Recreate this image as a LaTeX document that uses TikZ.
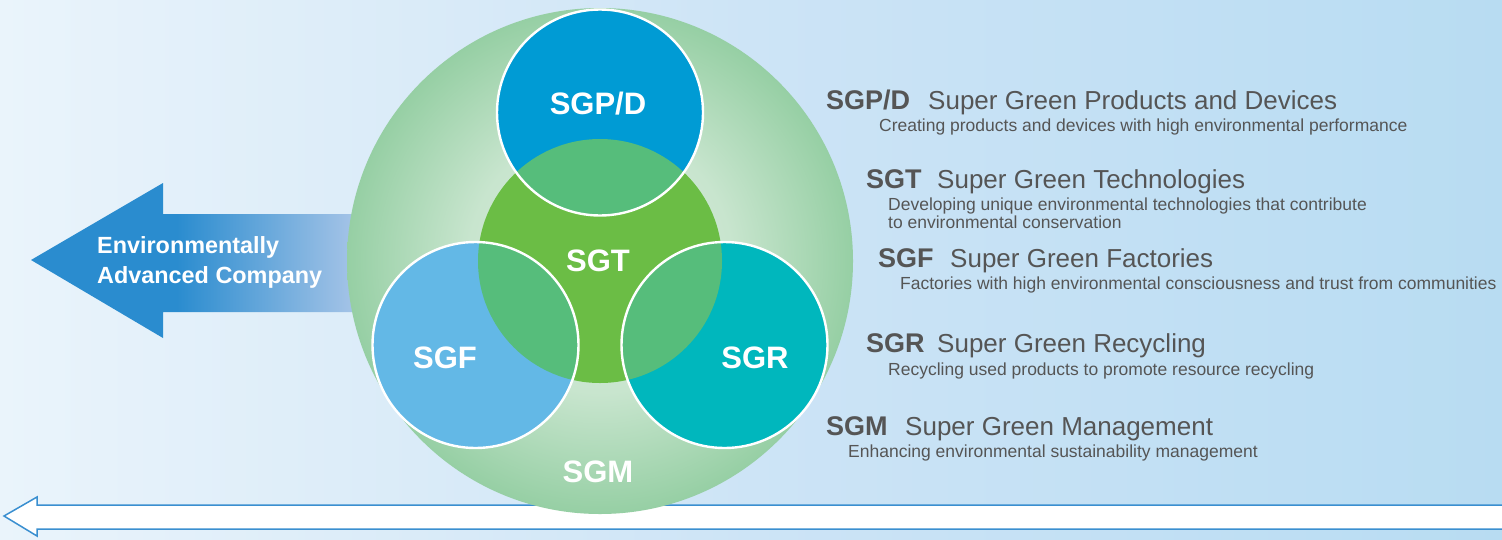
\documentclass[tikz,border=0pt]{standalone}
\usepackage{fontspec}
\setmainfont{Liberation Sans}
\definecolor{bgL}{RGB}{234,244,251}
\definecolor{bgM}{RGB}{205,228,246}
\definecolor{bgR}{RGB}{184,220,242}
\definecolor{arrDark}{RGB}{42,140,207}
\definecolor{arrLight}{RGB}{170,198,232}
\definecolor{glowC}{RGB}{216,237,220}
\definecolor{glowM}{RGB}{200,229,206}
\definecolor{glowE}{RGB}{150,207,164}
\definecolor{cSGPD}{RGB}{0,155,212}
\definecolor{cSGT}{RGB}{107,189,69}
\definecolor{cSGF}{RGB}{99,184,230}
\definecolor{cSGR}{RGB}{0,183,189}
\definecolor{cOver}{RGB}{86,189,123}
\definecolor{txtGray}{RGB}{85,85,85}
\definecolor{lineBlue}{RGB}{58,143,208}
\pgfdeclareradialshading{bigglow}{\pgfpoint{0bp}{0bp}}{color(0bp)=(glowC); color(13bp)=(glowM); color(25bp)=(glowE); color(50bp)=(glowE)}
\pgfdeclarehorizontalshading{arrowfade}{100bp}{color(0bp)=(arrDark); color(47bp)=(arrDark); color(75bp)=(arrLight); color(100bp)=(arrLight)}
\tikzset{
  abbr/.style={anchor=base west, inner sep=0pt, text=txtGray, font=\fontsize{27}{30}\selectfont\bfseries},
  ttl/.style={anchor=base west, inner sep=0pt, text=txtGray, font=\fontsize{26}{30}\selectfont},
  subt/.style={anchor=base west, inner sep=0pt, text=txtGray, font=\fontsize{17.5}{20}\selectfont},
  clabel/.style={anchor=base, inner sep=0pt, text=white, font=\fontsize{31}{34}\selectfont\bfseries},
  arrlabel/.style={anchor=base west, inner sep=0pt, text=white, font=\fontsize{23.4}{26}\selectfont\bfseries},
  ring/.style={draw=white, line width=2.4pt},
}
\begin{document}
\begin{tikzpicture}[x=1pt,y=-1pt]
\useasboundingbox (0,0) rectangle (1502,539);
% background
\shade[left color=bgL, right color=bgR, middle color=bgM] (0,0) rectangle (1502,539);
% bottom long arrow
\draw[lineBlue, line width=1.5pt, fill=white, line join=miter]
  (1510,505) -- (37,505) -- (37,497) -- (4,516) -- (37,536) -- (37,529) -- (1510,529);
% left arrow
\shade[shading=arrowfade]
  (31,260) -- (163,183) -- (163,214) -- (362,214) -- (362,312) -- (163,312) -- (163,338) -- cycle;
\node[arrlabel] (envA) at (97,253) {Environmentally};
\node[arrlabel] (envB) at (97,283) {Advanced Company};
% big circle
\shade[shading=bigglow] (600,261) circle (253pt);
% inner circles
\fill[cSGT] (600,261) circle (122pt);
\fill[cSGPD] (600,112.5) circle (103pt);
\fill[cSGF] (475.5,345) circle (103pt);
\fill[cSGR] (724.5,345) circle (103pt);
\begin{scope}
  \clip (600,261) circle (122pt);
  \fill[cOver] (600,112.5) circle (103pt);
  \fill[cOver] (475.5,345) circle (103pt);
  \fill[cOver] (724.5,345) circle (103pt);
\end{scope}
\draw[ring] (600,112.5) circle (103pt);
\draw[ring] (475.5,345) circle (103pt);
\draw[ring] (724.5,345) circle (103pt);
% circle labels
\node[clabel] (lSGPD) at (598,114) {SGP/D};
\node[clabel] (lSGT) at (598,271) {SGT};
\node[clabel] (lSGF) at (445,368) {SGF};
\node[clabel] (lSGR) at (755,368) {SGR};
\node[clabel] (lSGM) at (598,482) {SGM};
% right legend
\node[abbr] (aSGPD) at (826,109) {SGP/D};
\node[ttl] (tSGPD) at (928,109) {Super Green Products and Devices};
\node[subt] (sSGPD) at (879,131) {Creating products and devices with high environmental performance};
\node[abbr] (aSGT) at (866,188) {SGT};
\node[ttl] (tSGT) at (937,188) {Super Green Technologies};
\node[subt] (sSGTa) at (888,210) {Developing unique environmental technologies that contribute};
\node[subt] (sSGTb) at (888,228) {to environmental conservation};
\node[abbr] (aSGF) at (878,267) {SGF};
\node[ttl] (tSGF) at (950,267) {Super Green Factories};
\node[subt] (sSGF) at (900,289) {Factories with high environmental consciousness and trust from communities};
\node[abbr] (aSGR) at (866,352) {SGR};
\node[ttl] (tSGR) at (937,352) {Super Green Recycling};
\node[subt] (sSGR) at (888,375) {Recycling used products to promote resource recycling};
\node[abbr] (aSGM) at (826,435) {SGM};
\node[ttl] (tSGM) at (905,435) {Super Green Management};
\node[subt] (sSGM) at (848,457) {Enhancing environmental sustainability management};
\end{tikzpicture}
\end{document}
